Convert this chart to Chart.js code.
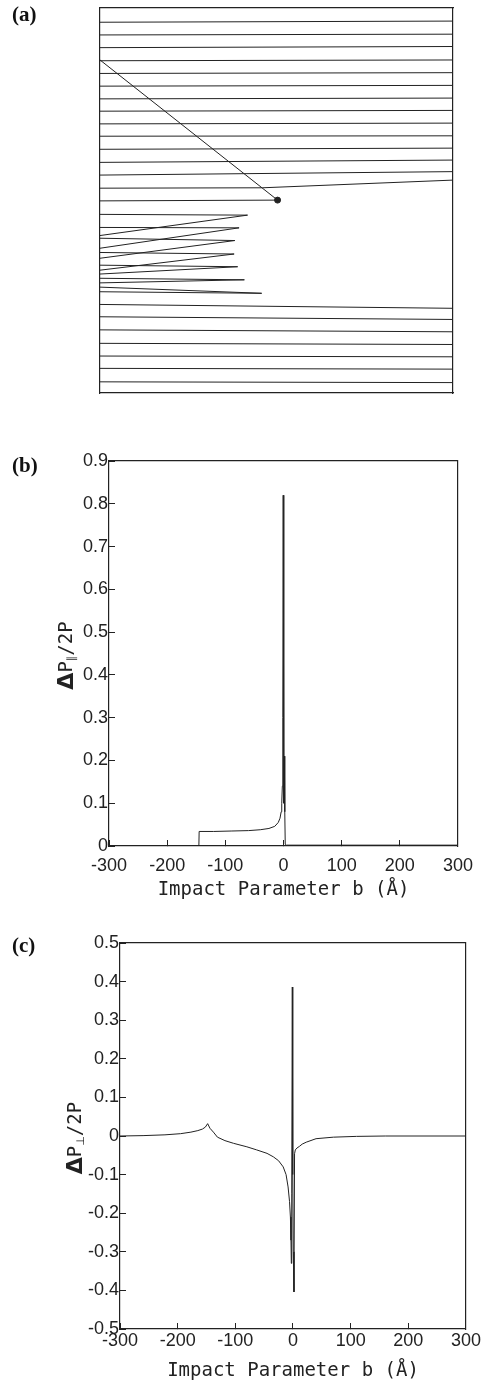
<!DOCTYPE html>
<html>
<head>
<meta charset="utf-8">
<script src="https://cdn.jsdelivr.net/npm/chart.js@4.4.1/dist/chart.umd.min.js"></script>
<style>
  html, body { margin: 0; padding: 0; background: #fff; }
  body { width: 488px; height: 1385px; position: relative; overflow: hidden; }
  canvas { position: absolute; left: 0; }
  .tag { position: absolute; left: 12px; font: bold 21px "Liberation Serif", "DejaVu Serif", serif; color: #111; line-height: 1; }
</style>
</head>
<body>
<canvas id="chartA" style="top:0" width="488" height="410"></canvas>
<canvas id="chartB" style="top:440px" width="488" height="470"></canvas>
<canvas id="chartC" style="top:925px" width="488" height="460"></canvas>
<div class="tag" style="top:4px">(a)</div>
<div class="tag" style="top:455px">(b)</div>
<div class="tag" style="top:935px">(c)</div>
<script>
// (a) trajectories, in box units: x 0..100 left->right, y 0..100 bottom->top
const passLeftY  = [96.3, 93.0, 89.7, 86.3, 83.0, 79.7, 76.4, 73.2, 69.9, 66.7, 63.3, 59.9, 56.6,
                    23.0, 19.8, 16.4, 12.9, 9.6, 6.4, 2.9];
const passRightY = [96.6, 93.2, 90.0, 86.5, 83.2, 79.9, 76.6, 73.4, 70.1, 66.8, 63.6, 60.5, 57.5,
                    22.0, 19.1, 15.9, 12.6, 9.4, 6.2, 2.7];
const bentPathX = [0, 46, 100];
const bentPathY = [53.2, 53.3, 55.3];
const stopPathX = [0, 50.3];
const stopPathY = [49.9, 50.1];
const diagonalX = [0, 50.3];
const diagonalY = [86.5, 50.1];
const zigStartY = [46.4, 43.0, 40.2, 36.5, 33.2, 29.8, 26.3];
const zigTipX   = [41.8, 39.4, 38.2, 38.0, 39.0, 40.9, 45.8];
const zigTipY   = [46.2, 42.9, 39.6, 36.1, 32.8, 29.4, 25.9];
const zigEndY   = [40.9, 37.6, 35.0, 31.9, 30.9, 28.6, 27.5];

// (b) parallel momentum transfer vs impact parameter
const bB = [-300, -145.5, -145, -120, -90, -60, -40, -25, -15, -9, -6, -4, -3, -2, -1.2, -0.5,
            0.2, 0.8, 1.5, 2.2, 3, 5, 300];
const dParallel = [0, 0, 0.034, 0.034, 0.035, 0.036, 0.038, 0.041, 0.046, 0.055, 0.065, 0.08, 0.1, 0.14, 0.3, 0.82,
                   0.15, 0.1, 0.21, 0.08, 0.004, 0.002, 0.002];

// (c) perpendicular momentum transfer vs impact parameter
const bC = [-300, -260, -222, -195, -177, -165, -157, -152, -148, -144, -138, -131, -118, -103, -80, -63, -45, -34,
            -25, -17, -12, -8.5, -6, -4.5, -3.5, -2.9, -2.2, -1.2, -0.4, 0.5, 1.7, 2.7, 4, 7, 11, 16, 23, 40, 70,
            110, 160, 300];
const dPerp = [0, 0.001, 0.003, 0.006, 0.01, 0.014, 0.018, 0.023, 0.032, 0.02, 0.01, -0.003, -0.012, -0.019, -0.028,
               -0.036, -0.045, -0.054, -0.064, -0.08, -0.1, -0.132, -0.17, -0.21, -0.27, -0.33, -0.15, 0.386, -0.1,
               -0.3, -0.404, -0.046, -0.036, -0.031, -0.027, -0.021, -0.016, -0.007, -0.003, -0.001, 0, 0];

const bTicks = [-300, -200, -100, 0, 100, 200, 300];
const parTicks = [0, 0.1, 0.2, 0.3, 0.4, 0.5, 0.6, 0.7, 0.8, 0.9];
const perpTicks = [-0.5, -0.4, -0.3, -0.2, -0.1, 0, 0.1, 0.2, 0.3, 0.4, 0.5];

const ink = '#222';

function toPoints(xs, ys) {
  return xs.map((x, i) => ({ x, y: ys[i] }));
}

function lineSet(points) {
  return { data: points, showLine: true, borderColor: ink, borderWidth: 1, pointRadius: 0, tension: 0 };
}

// plain frame side, no ticks
function frameScale(position, min, max, size) {
  return {
    type: 'linear', position, min, max,
    grid: { display: false },
    border: { display: true, color: ink, width: 1.2 },
    ticks: { display: false },
    afterFit: s => { if (s.isHorizontal()) s.height = size; else s.width = size; }
  };
}

// axis with inward tick marks
function tickScale(position, min, max, values, size, padding) {
  return {
    type: 'linear', position, min, max,
    afterBuildTicks: s => { s.ticks = values.map(value => ({ value })); },
    grid: { drawOnChartArea: false, drawTicks: true, tickLength: -6, color: ink, lineWidth: 1 },
    border: { display: true, color: ink, width: 1.2 },
    ticks: {
      padding, color: ink, autoSkip: false, maxRotation: 0,
      font: { family: 'Liberation Sans', size: 18 },
      callback: v => String(v)
    },
    afterFit: s => { if (s.isHorizontal()) s.height = size; else s.width = size; }
  };
}

const yTitlePlugin = {
  id: 'yTitle',
  afterDraw(chart, args, opts) {
    if (!opts.sub) return;
    const { ctx, chartArea } = chart;
    const pieces = [
      { text: 'Δ', font: 'bold 22px "DejaVu Sans"', dy: 0 },
      { text: 'P', font: '19px "DejaVu Sans Mono"', dy: 0 },
      { text: opts.sub, font: '11px "DejaVu Sans"', dy: 5 },
      { text: '/2P', font: '19px "DejaVu Sans Mono"', dy: 0 }
    ];
    ctx.save();
    let total = 0;
    pieces.forEach(p => { ctx.font = p.font; p.w = ctx.measureText(p.text).width; total += p.w; });
    ctx.translate(chartArea.left - opts.offset, (chartArea.top + chartArea.bottom) / 2 + opts.shift);
    ctx.rotate(-Math.PI / 2);
    ctx.fillStyle = ink;
    ctx.textBaseline = 'middle';
    ctx.textAlign = 'left';
    let x = -total / 2;
    pieces.forEach(p => { ctx.font = p.font; ctx.fillText(p.text, x, p.dy); x += p.w; });
    ctx.restore();
  }
};

const baseOptions = {
  responsive: false,
  animation: false,
  layout: { padding: 0 },
  plugins: { legend: { display: false }, tooltip: { enabled: false } }
};

// ---- (a) ----
const setsA = [];
passLeftY.forEach((y0, i) => setsA.push(lineSet([{ x: 0, y: y0 }, { x: 100, y: passRightY[i] }])));
setsA.push(lineSet(toPoints(bentPathX, bentPathY)));
setsA.push(lineSet(toPoints(stopPathX, stopPathY)));
setsA.push(lineSet(toPoints(diagonalX, diagonalY)));
zigStartY.forEach((y0, i) => setsA.push(lineSet([
  { x: 0, y: y0 }, { x: zigTipX[i], y: zigTipY[i] }, { x: 0, y: zigEndY[i] }
])));
setsA.push({
  data: [{ x: stopPathX[1], y: stopPathY[1] }],
  pointRadius: 3, backgroundColor: ink, borderColor: ink, showLine: false
});

new Chart(document.getElementById('chartA'), {
  type: 'scatter',
  data: { datasets: setsA },
  options: {
    ...baseOptions,
    scales: {
      x: frameScale('bottom', 0, 100, 17),
      y: frameScale('left', 0, 100, 100),
      xTop: frameScale('top', 0, 100, 8),
      yRight: frameScale('right', 0, 100, 35)
    }
  }
});

// ---- (b) ----
const xB = tickScale('bottom', -300, 300, bTicks, 64, 15);
xB.title = {
  display: true, text: 'Impact Parameter b (Å)', color: ink,
  font: { family: 'DejaVu Sans Mono', size: 19 }, padding: { top: 0, bottom: 8.6 }
};

new Chart(document.getElementById('chartB'), {
  type: 'scatter',
  data: { datasets: [lineSet(toPoints(bB, dParallel))] },
  options: {
    ...baseOptions,
    plugins: { ...baseOptions.plugins, yTitle: { sub: '∥', offset: 42, shift: 2 } },
    scales: {
      x: xB,
      y: tickScale('left', 0, 0.9, parTicks, 109, 7),
      xTop: frameScale('top', -300, 300, 21),
      yRight: frameScale('right', 0, 0.9, 26)
    }
  },
  plugins: [yTitlePlugin]
});

// ---- (c) ----
const xC = tickScale('bottom', -300, 300, bTicks, 56, 7);
xC.title = {
  display: true, text: 'Impact Parameter b (Å)', color: ink,
  font: { family: 'DejaVu Sans Mono', size: 19 }, padding: { top: 0, bottom: 2.6 }
};

new Chart(document.getElementById('chartC'), {
  type: 'scatter',
  data: { datasets: [lineSet(toPoints(bC, dPerp))] },
  options: {
    ...baseOptions,
    plugins: { ...baseOptions.plugins, yTitle: { sub: '⊥', offset: 44, shift: 2 } },
    scales: {
      x: xC,
      y: tickScale('left', -0.5, 0.5, perpTicks, 120, 7),
      xTop: frameScale('top', -300, 300, 18),
      yRight: frameScale('right', -0.5, 0.5, 16)
    }
  },
  plugins: [yTitlePlugin]
});
</script>
</body>
</html>
